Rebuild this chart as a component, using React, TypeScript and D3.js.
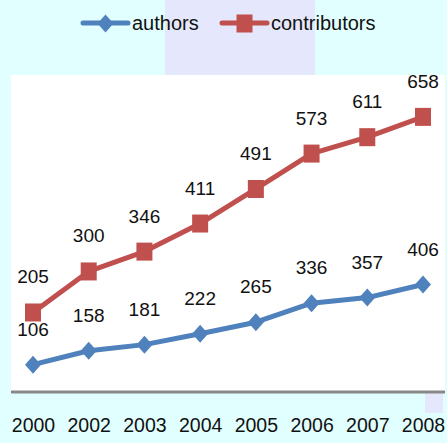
import React, { useEffect, useRef } from 'react';
import * as d3 from 'd3';

const years = ['2000', '2002', '2003', '2004', '2005', '2006', '2007', '2008'];
const authors = [106, 158, 181, 222, 265, 336, 357, 406];
const contributors = [205, 300, 346, 411, 491, 573, 611, 658];

const BLUE = '#4f81bd';
const RED = '#c0504d';

export default function App() {
  const ref = useRef<SVGSVGElement | null>(null);

  useEffect(() => {
    const width = 447;
    const height = 443;
    const plot = { left: 11, right: 445, top: 75, bottom: 392 };

    const svg = d3.select(ref.current);
    svg.selectAll('*').remove();
    svg.attr('width', width).attr('height', height);

    // background
    svg.append('rect').attr('width', width).attr('height', height).attr('fill', '#e2ffff');
    svg.append('rect').attr('x', 165).attr('y', 0).attr('width', 150).attr('height', 75).attr('fill', '#e5e7fc');
    svg.append('rect').attr('x', 425).attr('y', 393).attr('width', 18).attr('height', 20).attr('fill', '#e5e7fc');
    svg
      .append('rect')
      .attr('x', plot.left)
      .attr('y', plot.top)
      .attr('width', plot.right - plot.left)
      .attr('height', plot.bottom - plot.top)
      .attr('fill', '#ffffff');

    const x = d3.scalePoint<string>().domain(years).range([33, 423]);
    // two independent value axes (hidden)
    const yC = d3.scaleLinear().domain([0, 755]).range([401, plot.top]);
    const yA = d3.scaleLinear().domain([0, 1190]).range([plot.bottom + 1, plot.top]);

    // category axis line
    svg
      .append('line')
      .attr('x1', plot.left)
      .attr('x2', plot.right)
      .attr('y1', plot.bottom)
      .attr('y2', plot.bottom)
      .attr('stroke', '#888888')
      .attr('stroke-width', 3);

    const xAxis = d3.axisBottom(x).tickSize(0).tickPadding(0);
    const gx = svg.append('g').attr('transform', `translate(0, ${plot.bottom + 26})`).call(xAxis);
    gx.select('.domain').remove();
    gx.selectAll('text')
      .attr('font-family', 'Liberation Sans, Arial, sans-serif')
      .attr('font-size', 19.5)
      .attr('fill', '#111');

    const series = [
      { name: 'contributors', values: contributors, y: yC, color: RED, marker: 'square' },
      { name: 'authors', values: authors, y: yA, color: BLUE, marker: 'diamond' },
    ];

    const drawMarker = (g: any, marker: string, cx: number, cy: number, color: string) => {
      if (marker === 'square') {
        g.append('rect')
          .attr('x', cx - 8)
          .attr('y', cy - 9)
          .attr('width', 16)
          .attr('height', 18)
          .attr('fill', color);
      } else {
        g.append('path')
          .attr('d', `M${cx},${cy - 9}L${cx + 8},${cy}L${cx},${cy + 9}L${cx - 8},${cy}Z`)
          .attr('fill', color);
      }
    };

    series.forEach((s) => {
      const line = d3
        .line<number>()
        .x((d, i) => x(years[i]) as number)
        .y((d) => s.y(d));

      svg
        .append('path')
        .datum(s.values)
        .attr('d', line)
        .attr('fill', 'none')
        .attr('stroke', s.color)
        .attr('stroke-width', 5)
        .attr('stroke-linejoin', 'round');

      const g = svg.append('g');
      s.values.forEach((v, i) => drawMarker(g, s.marker, x(years[i]) as number, s.y(v), s.color));

      svg
        .append('g')
        .selectAll('text')
        .data(s.values)
        .enter()
        .append('text')
        .attr('x', (d, i) => x(years[i]) as number)
        .attr('y', (d) => s.y(d) - 29)
        .attr('text-anchor', 'middle')
        .attr('font-family', 'Liberation Sans, Arial, sans-serif')
        .attr('font-size', 19)
        .attr('fill', '#111')
        .text((d) => d);
    });

    // legend
    const legend = [
      { label: 'authors', color: BLUE, marker: 'diamond', x: 83 },
      { label: 'contributors', color: RED, marker: 'square', x: 222 },
    ];
    legend.forEach((l) => {
      const g = svg.append('g');
      g.append('line')
        .attr('x1', l.x)
        .attr('x2', l.x + 45)
        .attr('y1', 23)
        .attr('y2', 23)
        .attr('stroke', l.color)
        .attr('stroke-width', 5)
        .attr('stroke-linecap', 'round');
      drawMarker(g, l.marker, l.x + 22.5, 23.5, l.color);
      g.append('text')
        .attr('x', l.x + 49)
        .attr('y', 30)
        .attr('font-family', 'Liberation Sans, Arial, sans-serif')
        .attr('font-size', 20)
        .attr('fill', '#111')
        .text(l.label);
    });
  }, []);

  return (
    <div>
      <svg ref={ref} style={{ position: 'absolute', left: 0, top: 0 }}></svg>
    </div>
  );
}
